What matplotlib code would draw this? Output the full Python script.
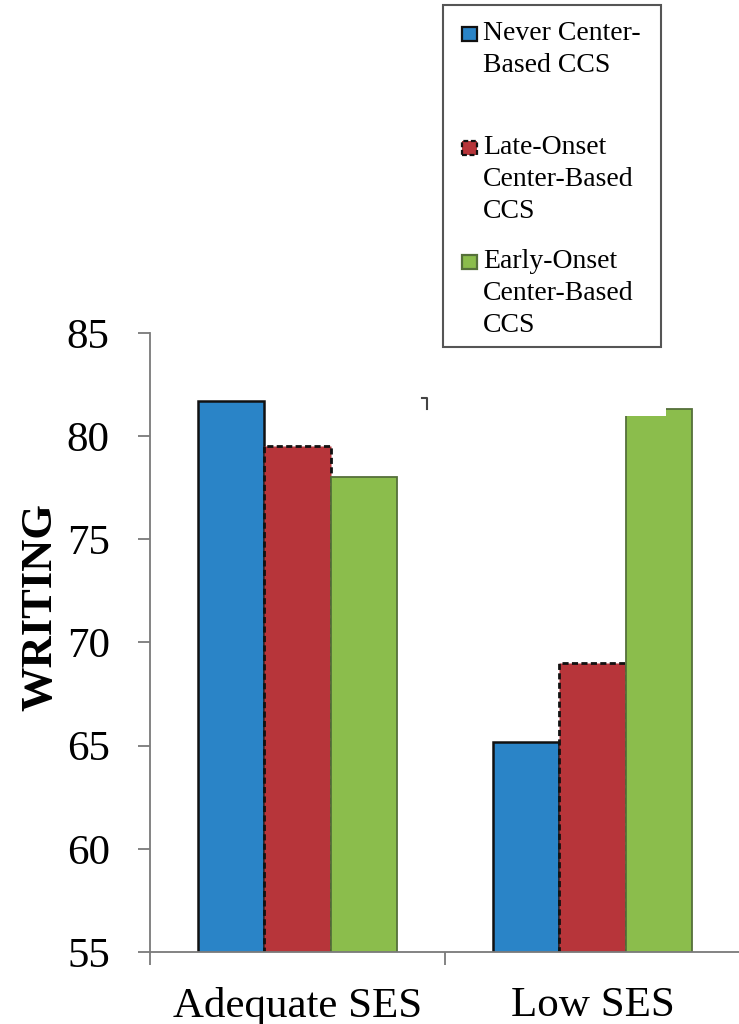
import matplotlib
matplotlib.use("Agg")
import matplotlib.pyplot as plt
import numpy as np
from matplotlib.patches import Rectangle
from matplotlib.lines import Line2D

# ---- data ----
categories = ["Adequate SES", "Low SES"]
series_names = ["Never Center-\nBased CCS",
                "Late-Onset\nCenter-Based\nCCS",
                "Early-Onset\nCenter-Based\nCCS"]
never_vals = [81.7, 65.2]
late_vals = [79.5, 69.0]
early_vals = [78.0, 81.3]
y_ticks = [55, 60, 65, 70, 75, 80, 85]
y_label = "WRITING"

# ---- styles ----
colors = ["#2A84C7", "#B7353A", "#8BBD4C"]
edgecolors = ["#111111", "#111111", "#55703A"]
linestyles = ["-", (0, (2.2, 1.2)), "-"]
linewidths = [1.8, 2.0, 1.3]
series_vals = [never_vals, late_vals, early_vals]

plt.rcParams['font.family'] = ['Liberation Serif', 'DejaVu Serif']

W, H = 739, 1024
fig = plt.figure(figsize=(W / 100, H / 100), dpi=100)
ax = fig.add_axes([150 / W, 72 / H, 590 / W, 619 / H])

x = np.arange(len(categories)) + 0.5
bw = 0.225
offsets = [-bw, 0, bw]
for vals, off, c, ec, ls, lw in zip(series_vals, offsets, colors, edgecolors, linestyles, linewidths):
    ax.bar(x + off, vals, width=bw, color=c, edgecolor=ec, linestyle=ls,
           linewidth=lw, zorder=2)

ax.set_xlim(0, 2)
ax.set_ylim(55, 85)
ax.set_yticks(y_ticks)
ax.set_yticklabels([str(t) for t in y_ticks])
ax.set_xticks(x)
ax.set_xticklabels(categories)
ax.set_xticks([0, 1, 2], minor=True)

spine_col = "#7a7a7a"
for s in ["top", "right"]:
    ax.spines[s].set_visible(False)
for s in ["left", "bottom"]:
    ax.spines[s].set_color(spine_col)
    ax.spines[s].set_linewidth(1.3)

ax.tick_params(axis='y', which='major', direction='out', length=9, width=1.3,
               color=spine_col, labelsize=31, pad=20)
ax.tick_params(axis='x', which='major', length=0, labelsize=31, pad=25)
ax.tick_params(axis='x', which='minor', direction='out', length=9, width=1.3,
               color=spine_col)

fig.text(40 / W, 1 - 607 / H, y_label, rotation=90, ha='center', va='center',
         fontsize=32, fontweight='bold')

# small artefacts present in the source image
fig.patches.append(Rectangle((480 / W, 1 - 416 / H), 186 / W, 30 / H,
                             transform=fig.transFigure, facecolor='white',
                             edgecolor='none', zorder=4))
fig.lines.append(Line2D([422 / W, 427 / W, 427 / W],
                        [1 - 398 / H, 1 - 398 / H, 1 - 409 / H],
                        transform=fig.transFigure, color='#444444', lw=1.5))

# ---- legend (drawn manually to match layout) ----
fig.patches.append(Rectangle((443 / W, 1 - 347 / H), (661 - 443) / W, (347 - 5) / H,
                             transform=fig.transFigure, facecolor='white',
                             edgecolor='#555555', linewidth=1.5, zorder=5))
first_baselines = [40, 154, 268]
line_step = 32
for name, base, c, ec, ls in zip(series_names, first_baselines, colors, edgecolors, linestyles):
    fig.patches.append(Rectangle((462 / W, 1 - (base + 1) / H), 15 / W, 14 / H,
                                 transform=fig.transFigure, facecolor=c,
                                 edgecolor=ec, linestyle=ls, linewidth=1.6, zorder=6))
    for k, line in enumerate(name.split("\n")):
        fig.text(483 / W, 1 - (base + k * line_step) / H, line, ha='left',
                 va='baseline', fontsize=20, zorder=7)

fig.savefig("out.png", dpi=100)
